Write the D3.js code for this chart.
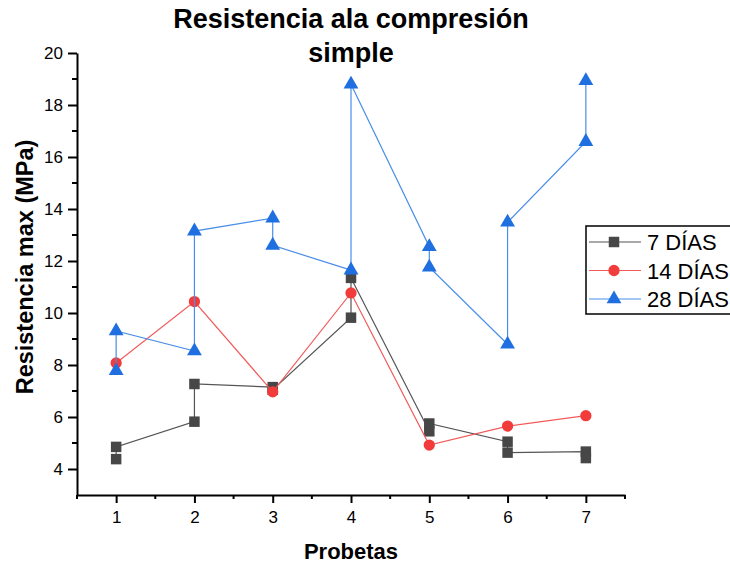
<!DOCTYPE html>
<html>
<head>
<meta charset="utf-8">
<script src="https://cdn.jsdelivr.net/npm/d3@7"></script>
<style>
  body { margin: 0; background: #fff; }
  text { font-family: "Liberation Sans", Arial, sans-serif; }
</style>
</head>
<body>
<script>
// data
var probetas = [1, 1, 2, 2, 3, 3, 4, 4, 5, 5, 6, 6, 7, 7];
var dias7 = [4.38, 4.85, 5.82, 7.27, 7.15, 7.05, 9.82, 11.35, 5.45, 5.75, 5.05, 4.63, 4.67, 4.42];
var probetas14 = [1, 2, 3, 4, 5, 6, 7];
var dias14 = [8.08, 10.44, 6.97, 10.77, 4.92, 5.65, 6.05];
var dias28 = [7.78, 9.31, 8.54, 13.15, 13.65, 12.6, 11.65, 18.8, 12.55, 11.76, 8.8, 13.49, 16.59, 18.93];
var xTicks = [1, 2, 3, 4, 5, 6, 7];
var yTicks = [4, 6, 8, 10, 12, 14, 16, 18, 20];
var seriesNames = ["7 DÍAS", "14 DÍAS", "28 DÍAS"];

var width = 730, height = 565;
var svg = d3.select("body").append("svg")
    .attr("width", width)
    .attr("height", height);

// set the ranges
var x = d3.scaleLinear().domain([0.5, 7.5]).range([77, 625]);
var y = d3.scaleLinear().domain([3, 20]).range([495, 53]);

// title
svg.append("text")
    .attr("x", 351).attr("y", 28)
    .attr("text-anchor", "middle")
    .style("font-size", "27px").style("font-weight", "bold")
    .text("Resistencia ala compresión");
svg.append("text")
    .attr("x", 351).attr("y", 62)
    .attr("text-anchor", "middle")
    .style("font-size", "27px").style("font-weight", "bold")
    .text("simple");

// axes
var xAxis = svg.append("g")
    .attr("transform", "translate(0,495)")
    .call(d3.axisBottom(x).tickValues(xTicks).tickFormat(d3.format("d")).tickSize(8).tickSizeOuter(0).tickPadding(8));
xAxis.selectAll("text").style("font-size", "17px").attr("fill", "#000");
xAxis.append("g").selectAll("line")
    .data(d3.range(0.5, 7.6, 1))
    .enter().append("line")
    .attr("x1", function(d) { return x(d); }).attr("x2", function(d) { return x(d); })
    .attr("y1", 0).attr("y2", 4)
    .attr("stroke", "#000").attr("stroke-width", 2);

var yAxis = svg.append("g")
    .attr("transform", "translate(77,0)")
    .call(d3.axisLeft(y).tickValues(yTicks).tickSize(9).tickSizeOuter(0).tickPadding(5));
yAxis.selectAll("text").style("font-size", "17px").attr("fill", "#000");
yAxis.append("g").selectAll("line")
    .data(d3.range(5, 20, 2))
    .enter().append("line")
    .attr("y1", function(d) { return y(d); }).attr("y2", function(d) { return y(d); })
    .attr("x1", 0).attr("x2", -5)
    .attr("stroke", "#000").attr("stroke-width", 2);

svg.selectAll(".domain").attr("stroke", "#000").attr("stroke-width", 2);
svg.selectAll(".tick line").attr("stroke", "#000").attr("stroke-width", 2);

// axis titles
svg.append("text")
    .attr("x", 351).attr("y", 559)
    .attr("text-anchor", "middle")
    .style("font-size", "22px").style("font-weight", "bold")
    .text("Probetas");
svg.append("text")
    .attr("transform", "translate(33,267) rotate(-90)")
    .attr("text-anchor", "middle")
    .style("font-size", "23.5px").style("font-weight", "bold")
    .text("Resistencia max (MPa)");

// series
var series = [
  { xs: probetas, ys: dias7, line: "#555555", fill: "#474747", symbol: d3.symbolSquare, size: 110 },
  { xs: probetas14, ys: dias14, line: "#f25a5a", fill: "#f23c3c", symbol: d3.symbolCircle, size: 100 },
  { xs: probetas, ys: dias28, line: "#4a8ee8", fill: "#1f6fe0", symbol: d3.symbolTriangle, size: 95 }
];

var line = d3.line()
    .x(function(d) { return x(d[0]); })
    .y(function(d) { return y(d[1]); });

series.forEach(function(s) {
  var pts = s.xs.map(function(v, i) { return [v, s.ys[i]]; });
  svg.append("path")
      .datum(pts)
      .attr("fill", "none")
      .attr("stroke", s.line)
      .attr("stroke-width", 1.2)
      .attr("d", line);
  svg.selectAll(null)
      .data(pts)
    .enter().append("path")
      .attr("transform", function(d) { return "translate(" + x(d[0]) + "," + y(d[1]) + ")"; })
      .attr("d", d3.symbol().type(s.symbol).size(s.size))
      .attr("fill", s.fill);
});

// legend
var legend = svg.append("g").attr("transform", "translate(586,226)");
legend.append("rect")
    .attr("width", 170).attr("height", 88)
    .attr("fill", "#fff").attr("stroke", "#000").attr("stroke-width", 1.5);
series.forEach(function(s, i) {
  var ly = 16 + i * 28.5;
  legend.append("line")
      .attr("x1", 3).attr("x2", 55).attr("y1", ly).attr("y2", ly)
      .attr("stroke", s.line).attr("stroke-width", 1.2);
  legend.append("path")
      .attr("transform", "translate(28," + ly + ")")
      .attr("d", d3.symbol().type(s.symbol).size(s.size))
      .attr("fill", s.fill);
  legend.append("text")
      .attr("x", 61).attr("y", ly + 8)
      .style("font-size", "22px")
      .text(seriesNames[i]);
});
</script>
</body>
</html>
